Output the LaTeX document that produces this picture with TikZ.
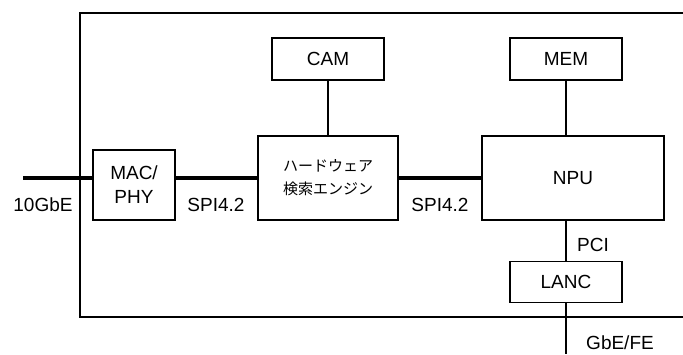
\documentclass[tikz,border=0pt]{standalone}
\usepackage{fontspec}
\setmainfont{Liberation Sans}
\newfontfamily\jpfont{Noto Sans CJK JP}
\usetikzlibrary{positioning}
\tikzset{
  blk/.style ={draw, rectangle, align=center, inner sep=0pt, line width=0.65pt,
               font=\fontsize{9.5}{12}\selectfont},
  lbl/.style ={font=\fontsize{9.5}{12}\selectfont, inner sep=0pt},
  thin/.style={line width=0.65pt},
  bus/.style ={line width=2pt},
}
\begin{document}
\begin{tikzpicture}[x=0.5pt,y=-0.5pt]
\useasboundingbox (0,0) rectangle (683,354);
% board outline, open to the right
\draw[thin] (683,13) -- (80,13) -- (80,317) -- (683,317);
\node[blk, minimum width=41pt, minimum height=35pt] (mac) at (134,185) {MAC/\\PHY};
\node[blk, minimum width=70pt, minimum height=42pt, font=\jpfont\fontsize{7.5}{11.5}\selectfont] (eng) at (328,178) {ハードウェア\\検索エンジン};
\node[blk, minimum width=91pt, minimum height=42pt] (npu) at (573,178) {NPU};
\node[blk, minimum width=56pt, minimum height=21pt] (cam) at (328,59) {CAM};
\node[blk, minimum width=56pt, minimum height=21pt] (mem) at (566,59) {MEM};
\node[blk, minimum width=56pt, minimum height=20.5pt] (lanc) at (566,282) {LANC};
\coordinate (ein) at (23,178);
\coordinate (gout) at (566,354);
\draw[bus] (ein) -- (mac.west |- ein);
\draw[bus] (mac.east |- ein) -- (eng.west);
\draw[bus] (eng.east) -- (npu.west);
\draw[thin] (cam.south) -- (eng.north);
\draw[thin] (mem.south) -- (mem.south |- npu.north);
\draw[thin] (lanc.north |- npu.south) -- (lanc.north);
\draw[thin] (lanc.south) -- (gout);
\node[lbl] (l10g) at (43,205) {10GbE};
\node[lbl] (lspa) at (216,205) {SPI4.2};
\node[lbl] (lspb) at (440,205) {SPI4.2};
\node[lbl] (lpci) at (593,245) {PCI};
\node[lbl] (lgbe) at (620,343) {GbE/FE};
\end{tikzpicture}
\end{document}
